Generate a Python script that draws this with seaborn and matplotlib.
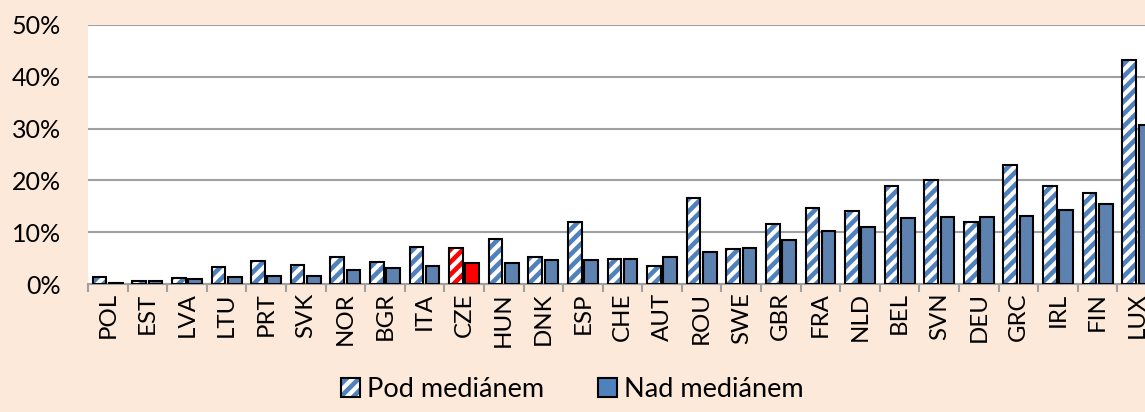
import matplotlib
matplotlib.use("Agg")
import matplotlib.pyplot as plt
import matplotlib.colors as mcolors
from matplotlib.patches import Patch
from matplotlib.ticker import PercentFormatter, FixedLocator
import seaborn as sns
import pandas as pd

# data (share, 0-1)
countries = ["POL", "EST", "LVA", "LTU", "PRT", "SVK", "NOR", "BGR", "ITA", "CZE",
             "HUN", "DNK", "ESP", "CHE", "AUT", "ROU", "SWE", "GBR", "FRA", "NLD",
             "BEL", "SVN", "DEU", "GRC", "IRL", "FIN", "LUX"]
pod = [0.014, 0.005, 0.012, 0.033, 0.044, 0.036, 0.053, 0.043, 0.072, 0.070,
       0.086, 0.053, 0.120, 0.048, 0.035, 0.166, 0.067, 0.115, 0.146, 0.140,
       0.189, 0.201, 0.120, 0.229, 0.189, 0.175, 0.433]
nad = [0.002, 0.006, 0.010, 0.014, 0.015, 0.016, 0.027, 0.031, 0.035, 0.041,
       0.041, 0.046, 0.046, 0.048, 0.052, 0.062, 0.069, 0.084, 0.103, 0.110,
       0.128, 0.129, 0.130, 0.132, 0.143, 0.155, 0.306]
series = ["Pod mediánem", "Nad mediánem"]
highlight = "CZE"

BLUE = "#4F81BD"
RED = "#FF0000"
BG = "#FDE9D9"

df = pd.DataFrame({
    "country": countries * 2,
    "value": pod + nad,
    "group": [series[0]] * len(countries) + [series[1]] * len(countries),
})

plt.rcParams["font.family"] = ["Lato", "DejaVu Sans"]
plt.rcParams["hatch.linewidth"] = 2.2

fig = plt.figure(figsize=(1145 / 150, 412 / 150), dpi=150, facecolor=BG)
# plot area runs past the right edge, as in the original (LUX is clipped)
ax = fig.add_axes([88 / 1145, 128 / 412, 1069 / 1145, 259 / 412])
ax.set_facecolor("white")

sns.barplot(data=df, x="country", y="value", hue="group", order=countries,
            hue_order=series, palette=[BLUE, BLUE], width=0.82, gap=0.16,
            edgecolor="black", linewidth=1.0, legend=False, ax=ax, zorder=3)

pod_bars, nad_bars = ax.containers[0], ax.containers[1]
for c, p in zip(countries, pod_bars):
    col = RED if c == highlight else BLUE
    p.set_facecolor("white")
    p.set_edgecolor("black")
    p.set_hatch("////")
    p._hatch_color = mcolors.to_rgba(col)
for c, p in zip(countries, nad_bars):
    if c == highlight:
        p.set_facecolor(RED)

ax.set_ylim(0, 0.5)
ax.set_xlim(-0.5, len(countries) - 0.5)
ax.yaxis.set_major_formatter(PercentFormatter(1.0, decimals=0))
ax.set_yticks([0, 0.1, 0.2, 0.3, 0.4, 0.5])
ax.grid(axis="y", color="#A0A0A0", linewidth=1.0, zorder=0)
ax.set_axisbelow(True)
ax.set_xlabel("")
ax.set_ylabel("")

for s in ["left", "right", "top"]:
    ax.spines[s].set_visible(False)
ax.spines["bottom"].set_color("#A0A0A0")
ax.spines["bottom"].set_linewidth(1.0)

ax.tick_params(axis="y", length=0, pad=13, labelsize=12)
ax.tick_params(axis="x", which="major", length=0, pad=4, labelsize=11.5, rotation=90)
ax.xaxis.set_minor_locator(FixedLocator([i - 0.5 for i in range(len(countries) + 1)]))
ax.tick_params(axis="x", which="minor", length=4, width=1.0, color="#A0A0A0")

h1 = Patch(facecolor="white", edgecolor="black", hatch="////", linewidth=1.0)
h1._hatch_color = mcolors.to_rgba(BLUE)
h2 = Patch(facecolor=BLUE, edgecolor="black", linewidth=1.0)
fig.legend([h1, h2], series, loc="lower center", bbox_to_anchor=(0.5, -0.035),
           ncol=2, frameon=False, fontsize=13, handlelength=0.7,
           handleheight=0.7, handletextpad=0.25, columnspacing=2.0)

fig.savefig("out.png", dpi=150, facecolor=BG)
